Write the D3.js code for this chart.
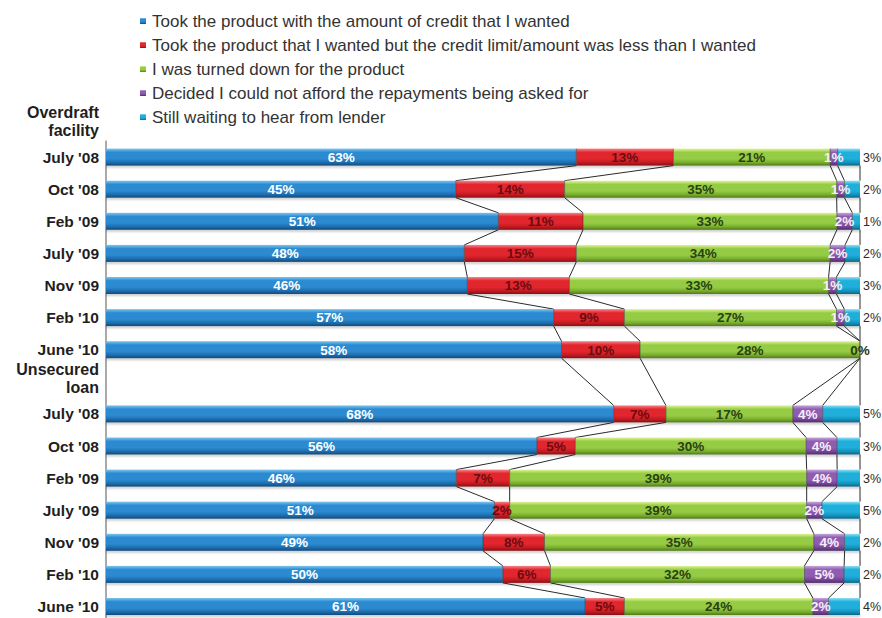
<!DOCTYPE html>
<html>
<head>
<meta charset="utf-8">
<script src="https://cdn.jsdelivr.net/npm/d3@7"></script>
<style>
  html, body { margin: 0; padding: 0; background: #fff; }
  svg { display: block; font-family: Arial, "Liberation Sans", sans-serif; }
</style>
</head>
<body>
<svg id="chart" width="882" height="618"></svg>
<script>
// Survey periods and product groups
const periods = ["July '08", "Oct '08", "Feb '09", "July '09", "Nov '09", "Feb '10", "June '10"];
const groupLines = [["Overdraft", "facility"], ["Unsecured", "loan"]];

// Outcome categories (legend order = stacking order)
const outcomes = [
  "Took the product with the amount of credit that I wanted",
  "Took the product that I wanted but the credit limit/amount was less than I wanted",
  "I was turned down for the product",
  "Decided I could not afford the repayments being asked for",
  "Still waiting to hear from lender"
];

// Overdraft facility (%)
const overdraftGotFull      = [63, 45, 51, 48, 46, 57, 58];
const overdraftGotLess      = [13, 14, 11, 15, 13, 9, 10];
const overdraftTurnedDown   = [21, 35, 33, 34, 33, 27, 28];
const overdraftCantAfford   = [1, 1, 2, 2, 1, 1, 0];
const overdraftStillWaiting = [3, 2, 1, 2, 3, 2, null];

// Unsecured loan (%)
const loanGotFull      = [68, 56, 46, 51, 49, 50, 61];
const loanGotLess      = [7, 5, 7, 2, 8, 6, 5];
const loanTurnedDown   = [17, 30, 39, 39, 35, 32, 24];
const loanCantAfford   = [4, 4, 4, 2, 4, 5, 2];
const loanStillWaiting = [5, 3, 3, 5, 2, 2, 4];

const groupSeries = [
  [overdraftGotFull, overdraftGotLess, overdraftTurnedDown, overdraftCantAfford, overdraftStillWaiting],
  [loanGotFull, loanGotLess, loanTurnedDown, loanCantAfford, loanStillWaiting]
];

// Palette: [top highlight, body, lower body, bottom edge]
const palettes = [
  ["#7cc6f0", "#2b8ad0", "#1d6cad", "#12497a"],
  ["#f5858a", "#e2262e", "#c21a21", "#861013"],
  ["#e2f59a", "#96cc45", "#78ad2c", "#4e7a18"],
  ["#c4a8dc", "#8f5db0", "#774596", "#502b68"],
  ["#8fe0f5", "#1fafda", "#1292bd", "#0b6688"]
];
const labelColors = ["#ffffff", "#6a0c0f", "#2a4111", "#f5eefa", "#333333"];

const svg = d3.select("#chart");
const defs = svg.append("defs");

palettes.forEach((p, i) => {
  const g = defs.append("linearGradient")
    .attr("id", "grad" + i).attr("x1", 0).attr("y1", 0).attr("x2", 0).attr("y2", 1);
  g.append("stop").attr("offset", "0%").attr("stop-color", p[0]);
  g.append("stop").attr("offset", "22%").attr("stop-color", p[1]);
  g.append("stop").attr("offset", "60%").attr("stop-color", p[1]);
  g.append("stop").attr("offset", "82%").attr("stop-color", p[2]);
  g.append("stop").attr("offset", "100%").attr("stop-color", p[3]);
});
defs.append("filter").attr("id", "soft").attr("x", "-5%").attr("y", "-50%").attr("width", "110%").attr("height", "200%")
  .append("feGaussianBlur").attr("stdDeviation", 1.2);

// Scales
const x = d3.scaleLinear().domain([0, 100]).range([106, 860]);
const rowKeys = [];
groupLines.forEach((_, g) => {
  rowKeys.push("head-" + g);
  periods.forEach(p => rowKeys.push(g + "|" + p));
});
const y = d3.scalePoint().domain(rowKeys).range([125, 606.5]);
const barH = 17;

// Build rows with cumulative (normalised) positions
const rows = [];
groupSeries.forEach((series, g) => {
  periods.forEach((p, i) => {
    const vals = series.map(s => s[i]);
    const total = d3.sum(vals, v => v ?? 0);
    let cum = 0;
    const segs = vals.map((v, k) => {
      const start = cum / total * 100;
      cum += (v ?? 0);
      return { k, value: v, x0: start, x1: cum / total * 100 };
    });
    rows.push({ key: g + "|" + p, period: p, group: g, segs });
  });
});

// Left axis line
svg.append("line")
  .attr("x1", x(0)).attr("x2", x(0))
  .attr("y1", y(rowKeys[1]) - barH / 2 - 8).attr("y2", 618)
  .attr("stroke", "#555").attr("stroke-width", 1);

// Connector lines between consecutive bars, at each segment boundary
const links = svg.append("g").attr("stroke", "#2b2b2b").attr("stroke-width", 1).attr("fill", "none");
for (let r = 0; r < rows.length - 1; r++) {
  const a = rows[r], b = rows[r + 1];
  for (let k = 0; k < 5; k++) {
    links.append("line")
      .attr("x1", x(a.segs[k].x1)).attr("y1", y(a.key) + barH / 2)
      .attr("x2", x(b.segs[k].x1)).attr("y2", y(b.key) - barH / 2);
  }
}

// Bars
const barG = svg.append("g");
rows.forEach(row => {
  const cy = y(row.key);
  barG.append("rect")
    .attr("x", x(0)).attr("y", cy + barH / 2 - 1)
    .attr("width", x(100) - x(0)).attr("height", 3)
    .attr("fill", "#000").attr("opacity", 0.2).attr("filter", "url(#soft)");
  row.segs.forEach(s => {
    if (s.x1 - s.x0 <= 0) return;
    barG.append("rect")
      .attr("x", x(s.x0)).attr("y", cy - barH / 2)
      .attr("width", x(s.x1) - x(s.x0)).attr("height", barH)
      .attr("fill", `url(#grad${s.k})`);
  });
  // dark edges at segment joins
  row.segs.slice(0, 4).forEach(s => {
    barG.append("line")
      .attr("x1", x(s.x1)).attr("x2", x(s.x1))
      .attr("y1", cy - barH / 2).attr("y2", cy + barH / 2)
      .attr("stroke", "#333").attr("stroke-width", 0.8).attr("opacity", 0.7);
  });
});

// Value labels
const labG = svg.append("g").attr("font-size", 13.5).attr("font-weight", "bold");
rows.forEach(row => {
  const cy = y(row.key);
  row.segs.forEach(s => {
    if (s.value === null) return;
    const t = labG.append("text").attr("y", cy).attr("dy", "0.36em").text(s.value + "%");
    if (s.k === 4) {
      t.attr("x", 863).attr("text-anchor", "start")
        .attr("font-weight", "normal").attr("font-size", 12.5).attr("fill", "#2a2a2a");
    } else {
      t.attr("x", x((s.x0 + s.x1) / 2)).attr("text-anchor", "middle")
        .attr("fill", s.value === 0 ? "#2a3a14" : labelColors[s.k]);
    }
  });
});

// Category labels
const catG = svg.append("g").attr("font-weight", "bold").attr("fill", "#1e1e1e").attr("text-anchor", "end");
rows.forEach(row => {
  catG.append("text").attr("x", 99).attr("y", y(row.key)).attr("dy", "0.36em")
    .attr("font-size", 15.5).text(row.period);
});
groupLines.forEach((lines, g) => {
  const cy = y("head-" + g);
  lines.forEach((ln, j) => {
    catG.append("text").attr("x", 99).attr("y", cy - 7 + j * 18)
      .attr("font-size", 16).text(ln);
  });
});

// Legend
const legG = svg.append("g");
outcomes.forEach((name, i) => {
  const cy = 21 + i * 24;
  legG.append("rect").attr("x", 140).attr("y", cy - 3).attr("width", 6).attr("height", 6)
    .attr("fill", `url(#grad${i})`);
  legG.append("text").attr("x", 152).attr("y", cy).attr("dy", "0.35em")
    .attr("font-size", 17).attr("fill", "#333").text(name);
});
</script>
</body>
</html>
